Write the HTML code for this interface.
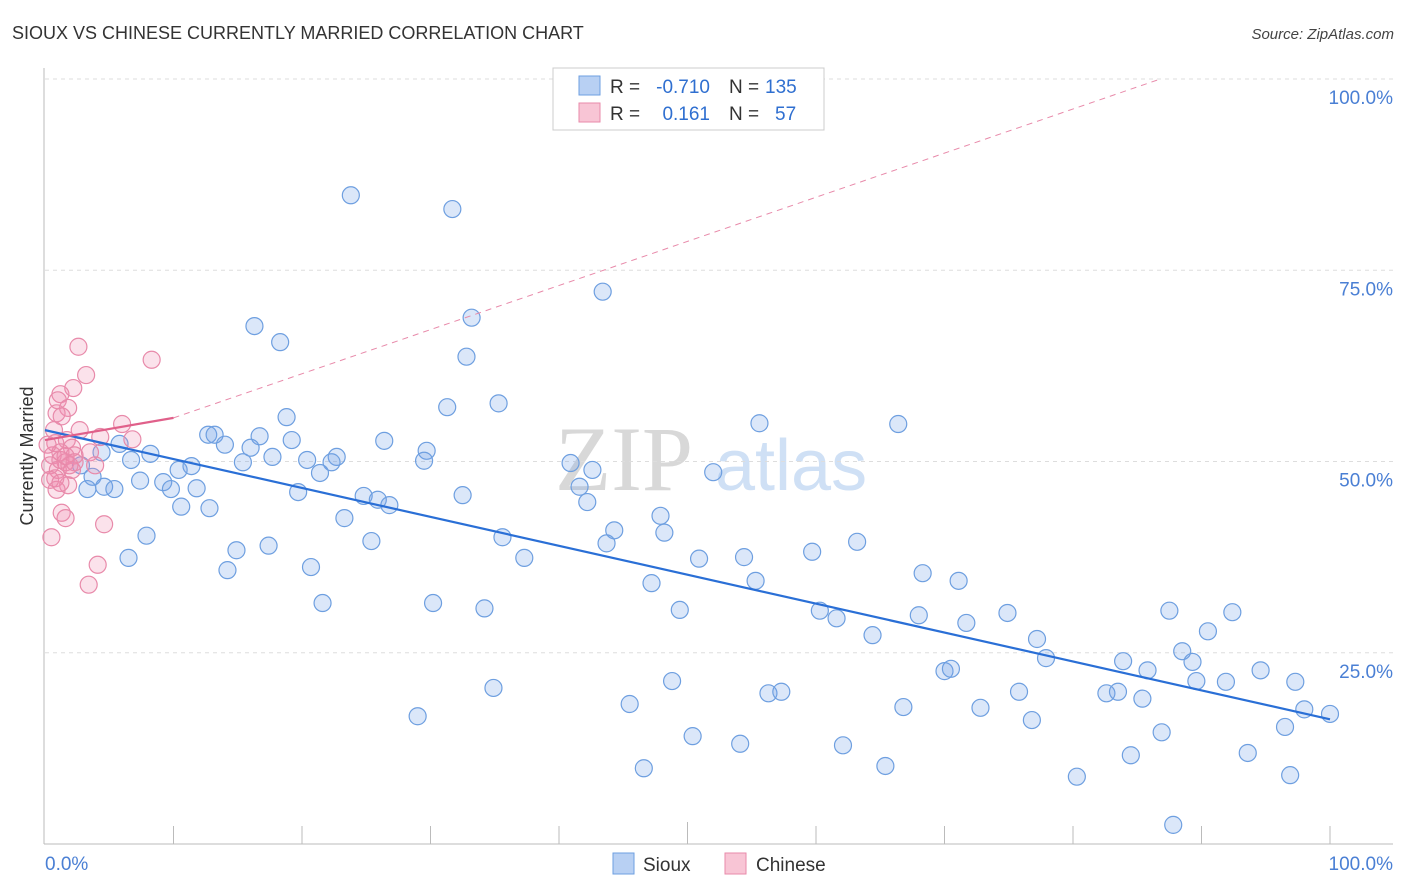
<!DOCTYPE html>
<html><head><meta charset="utf-8"><style>
body{margin:0;background:#fff;font-family:"Liberation Sans",sans-serif}
svg{display:block}
</style></head><body>
<svg id="chart" width="1406" height="892" viewBox="0 0 1406 892" xmlns="http://www.w3.org/2000/svg">
<text x="12" y="39" font-size="18" fill="#333">SIOUX VS CHINESE CURRENTLY MARRIED CORRELATION CHART</text>
<text x="1394" y="39" font-size="15" fill="#444" text-anchor="end" font-style="italic">Source: ZipAtlas.com</text>
<g>
<text x="555" y="490" font-size="92" fill="#d8d8d8" font-family="Liberation Serif,serif">ZIP</text>
<text x="715" y="490" font-size="72" fill="#cfe0f5">atlas</text>
</g>
<g id="grid"></g>
<g id="axes"></g>
<g id="pts"></g>
<g id="trend"></g>
<g>
<rect x="553" y="68" width="271" height="62" fill="#fff" stroke="#ccc"/>
<rect x="579" y="76" width="21" height="19" fill="#b8d0f3" stroke="#6e9fe0"/>
<rect x="579" y="103" width="21" height="19" fill="#f8c5d5" stroke="#e88aaa"/>
<text x="610" y="93" font-size="19" fill="#333">R =</text>
<text x="710" y="93" font-size="19" fill="#2f6fd0" text-anchor="end">-0.710</text>
<text x="729" y="93" font-size="19" fill="#333">N =</text>
<text x="765" y="93" font-size="19" fill="#2f6fd0">135</text>
<text x="610" y="120" font-size="19" fill="#333">R =</text>
<text x="710" y="120" font-size="19" fill="#2f6fd0" text-anchor="end">0.161</text>
<text x="729" y="120" font-size="19" fill="#333">N =</text>
<text x="775" y="120" font-size="19" fill="#2f6fd0">57</text>
</g>
<g>
<rect x="613" y="853" width="21" height="21" fill="#b8d0f3" stroke="#6e9fe0"/>
<text x="643" y="871" font-size="19" fill="#333">Sioux</text>
<rect x="725" y="853" width="21" height="21" fill="#f8c5d5" stroke="#e88aaa"/>
<text x="756" y="871" font-size="19" fill="#333">Chinese</text>
</g>
<text transform="translate(33,456) rotate(-90)" font-size="18" fill="#333" text-anchor="middle">Currently Married</text>
</svg>
<script>
const siouxX=[23.8,31.7,43.4,16.3,18.3,33.2,32.8,31.3,35.3,18.8,55.6,66.4,12.7,13.2,16.7,19.2,26.4,29.7,8.2,5.8,4.4,6.7,15.4,17.7,20.4,22.7,22.3,11.4,10.4,21.4,16.0,14.0,29.5,40.9,42.6,52.0,2.8,3.7,7.4,9.2,9.8,11.8,4.6,3.3,5.4,19.7,24.8,25.9,26.8,32.5,41.6,42.2,10.6,12.8,23.3,44.3,47.9,48.2,35.6,43.7,25.4,14.9,7.9,17.4,6.5,14.2,20.7,37.3,50.9,54.4,59.7,63.2,55.3,47.2,68.3,71.1,21.6,30.2,34.2,49.4,60.3,61.6,68.0,71.7,74.9,87.5,92.4,90.5,64.4,77.2,77.9,83.9,85.8,88.5,89.3,94.6,70.0,70.5,89.6,91.9,97.3,75.8,82.6,83.5,85.4,98.0,100.0,34.9,48.8,56.3,57.3,45.5,66.8,72.8,76.8,29.0,50.4,54.1,62.1,86.9,96.5,84.5,93.6,46.6,65.4,80.3,96.9,87.8];
const siouxY=[84.8,83.0,72.2,67.7,65.6,68.8,63.7,57.1,57.6,55.8,55.0,54.9,53.5,53.5,53.3,52.8,52.7,51.4,51.0,52.3,51.2,50.2,49.9,50.6,50.2,50.6,49.9,49.4,48.9,48.5,51.8,52.2,50.1,49.8,48.9,48.6,49.5,48.0,47.5,47.3,46.4,46.5,46.7,46.4,46.4,46.0,45.5,45.0,44.3,45.6,46.7,44.7,44.1,43.9,42.6,41.0,42.9,40.7,40.1,39.3,39.6,38.4,40.3,39.0,37.4,35.8,36.2,37.4,37.3,37.5,38.2,39.5,34.4,34.1,35.4,34.4,31.5,31.5,30.8,30.6,30.5,29.5,29.9,28.9,30.2,30.5,30.3,27.8,27.3,26.8,24.3,23.9,22.7,25.2,23.8,22.7,22.6,22.9,21.3,21.2,21.2,19.9,19.7,19.9,19.0,17.6,17.0,20.4,21.3,19.7,19.9,18.3,17.9,17.8,16.2,16.7,14.1,13.1,12.9,14.6,15.3,11.6,11.9,9.9,10.2,8.8,9.0,2.5];
const chineseX=[2.6,8.3,3.2,2.2,1.2,1.0,1.8,0.9,1.3,2.7,6.0,6.8,4.3,1.7,0.8,2.1,1.2,0.6,2.3,1.6,0.4,1.0,2.1,0.8,1.8,0.4,0.9,1.3,1.6,4.6,0.5,4.1,3.4,1.2,1.9,0.2,0.7,1.6,2.3,1.2,3.5,3.9];
const chineseY=[65.0,63.3,61.3,59.6,58.8,58.0,57.0,56.3,55.9,54.1,54.9,52.9,53.2,52.8,52.4,51.8,51.2,50.8,50.8,49.9,49.5,48.9,48.9,47.8,46.9,47.6,46.3,43.3,42.6,41.8,40.1,36.5,33.9,50.2,49.5,52.2,54.1,50.7,49.9,47.2,51.2,49.5];
const yTicks=[25,50,75,100];
const yTickLabels=["25.0%","50.0%","75.0%","100.0%"];
const xTicks=[0,10,20,30,40,50,60,70,80,90,100];
const siouxTrend=[[0,54.1],[100,16.3]];
const chineseTrend=[[0,52.8],[10,55.7]];
const chineseDash=[[10,55.7],[86.8,100]];

const X=v=>45+v*12.85, Y=v=>844-v*7.65;
const NS="http://www.w3.org/2000/svg";
function mk(tag,attrs,parent){const e=document.createElementNS(NS,tag);for(const k in attrs)e.setAttribute(k,attrs[k]);parent.appendChild(e);return e;}
const grid=document.getElementById('grid'),axes=document.getElementById('axes'),svg=document.getElementById('chart');
yTicks.forEach((t,i)=>{
 mk('line',{x1:45,x2:1393,y1:Y(t),y2:Y(t),stroke:'#ddd','stroke-dasharray':'4,4'},grid);
 const tx=mk('text',{x:1393,y:Y(t)+25,'font-size':19,fill:'#4a7fd4','text-anchor':'end'},axes);
 tx.textContent=yTickLabels[i];
 
 
});
mk('line',{x1:44,x2:44,y1:68,y2:844,stroke:'#bbb'},axes);
mk('line',{x1:44,x2:1393,y1:844,y2:844,stroke:'#bbb'},axes);
xTicks.forEach(t=>{if(t>0)mk('line',{x1:X(t),x2:X(t),y1:t==50?822:826,y2:844,stroke:'#bbb'},axes);});
const xl=mk('text',{x:45,y:870,'font-size':19,fill:'#4a7fd4'},axes);xl.textContent='0.0%';


const xr=mk('text',{x:1393,y:870,'font-size':19,fill:'#4a7fd4','text-anchor':'end'},axes);xr.textContent='100.0%';


const pts=document.getElementById('pts');
siouxX.forEach((x,i)=>{const c=mk('circle',{cx:X(x),cy:Y(siouxY[i]),r:8.5,fill:'rgba(110,160,230,0.25)',stroke:'#6e9fe0','stroke-width':1.2},pts);
 
 });
chineseX.forEach((x,i)=>{const c=mk('circle',{cx:X(x),cy:Y(chineseY[i]),r:8.5,fill:'rgba(240,140,175,0.25)',stroke:'#e88aaa','stroke-width':1.2},pts);
 
 });
const tr=document.getElementById('trend');
const l1=mk('line',{x1:X(siouxTrend[0][0]),y1:Y(siouxTrend[0][1]),x2:X(siouxTrend[1][0]),y2:Y(siouxTrend[1][1]),stroke:'#2a6fd6','stroke-width':2.2},tr);


const l2=mk('line',{x1:X(chineseDash[0][0]),y1:Y(chineseDash[0][1]),x2:X(chineseDash[1][0]),y2:Y(chineseDash[1][1]),stroke:'#e88aaa','stroke-width':1,'stroke-dasharray':'6,5'},tr);


const l3=mk('line',{x1:X(chineseTrend[0][0]),y1:Y(chineseTrend[0][1]),x2:X(chineseTrend[1][0]),y2:Y(chineseTrend[1][1]),stroke:'#e0608a','stroke-width':2.2},tr);


</script>
</body></html>
